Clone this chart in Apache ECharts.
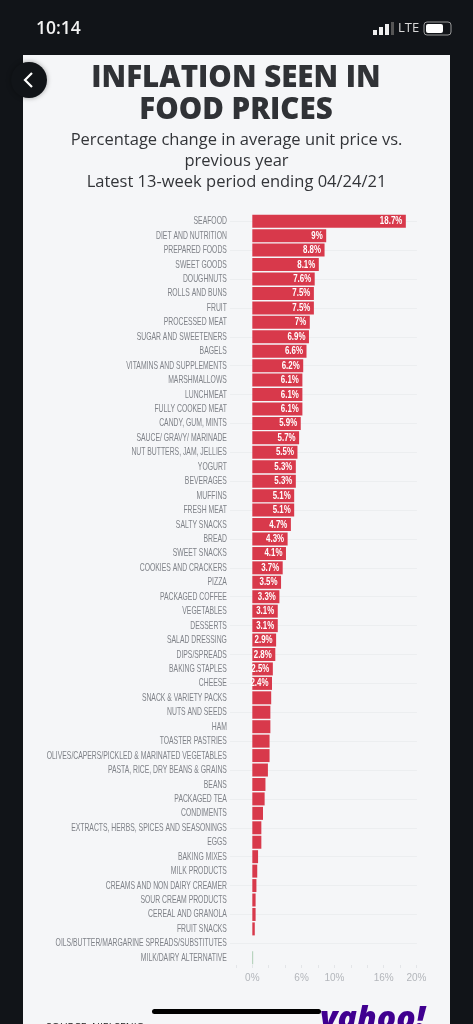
<!DOCTYPE html>
<html lang="en">
<head>
<meta charset="UTF-8">
<title>Inflation seen in food prices</title>
<script src="https://cdn.jsdelivr.net/npm/echarts@6/dist/echarts.min.js"></script>
<style>
html,body{margin:0;padding:0;background:#111418;}
#chart{width:473px;height:1024px;}
</style>
</head>
<body>
<div id="chart"></div>
<script>
var categories = ['SEAFOOD','DIET AND NUTRITION','PREPARED FOODS','SWEET GOODS','DOUGHNUTS','ROLLS AND BUNS','FRUIT','PROCESSED MEAT','SUGAR AND SWEETENERS','BAGELS','VITAMINS AND SUPPLEMENTS','MARSHMALLOWS','LUNCHMEAT','FULLY COOKED MEAT','CANDY, GUM, MINTS','SAUCE/ GRAVY/ MARINADE','NUT BUTTERS, JAM, JELLIES','YOGURT','BEVERAGES','MUFFINS','FRESH MEAT','SALTY SNACKS','BREAD','SWEET SNACKS','COOKIES AND CRACKERS','PIZZA','PACKAGED COFFEE','VEGETABLES','DESSERTS','SALAD DRESSING','DIPS/SPREADS','BAKING STAPLES','CHEESE','SNACK & VARIETY PACKS','NUTS AND SEEDS','HAM','TOASTER PASTRIES','OLIVES/CAPERS/PICKLED & MARINATED VEGETABLES','PASTA, RICE, DRY BEANS & GRAINS','BEANS','PACKAGED TEA','CONDIMENTS','EXTRACTS, HERBS, SPICES AND SEASONINGS','EGGS','BAKING MIXES','MILK PRODUCTS','CREAMS AND NON DAIRY CREAMER','SOUR CREAM PRODUCTS','CEREAL AND GRANOLA','FRUIT SNACKS','OILS/BUTTER/MARGARINE SPREADS/SUBSTITUTES','MILK/DAIRY ALTERNATIVE'];
var values = [18.7,9,8.8,8.1,7.6,7.5,7.5,7,6.9,6.6,6.2,6.1,6.1,6.1,5.9,5.7,5.5,5.3,5.3,5.1,5.1,4.7,4.3,4.1,3.7,3.5,3.3,3.1,3.1,2.9,2.8,2.5,2.4,2.3,2.2,2.2,2.1,2.1,1.9,1.6,1.5,1.3,1.1,1.1,0.7,0.6,0.5,0.4,0.4,0.3,0,0.1];
var labelledBars = 33;
var tickLabels = [0,6,10,16,20];

var font = '"Liberation Sans"';
var panel = '#f5f6f8';

// no condensed font is installed, so squeeze the labels with scaleX
function squeezedText(text, pos, scaleX, style) {
    return {
        type: 'text', x: pos[0], y: pos[1], scaleX: scaleX,
        style: {text: text, x: 0, y: 0, align: 'right', verticalAlign: 'middle', fill: style.fill, font: style.font}
    };
}

var chart = echarts.init(document.getElementById('chart'));
chart.setOption({
    backgroundColor: '#111418',
    animation: false,
    title: [
        {text: 'INFLATION SEEN IN\nFOOD PRICES', left: 231, top: 58, textAlign: 'center',
         textStyle: {fontFamily: '"Open Sans"', fontWeight: 800, fontSize: 29.5, lineHeight: 31.5, color: '#303236'}},
        {text: 'Percentage change in average unit price vs.\nprevious year\nLatest 13-week period ending 04/24/21', left: 231.5, top: 125, textAlign: 'center',
         textStyle: {fontFamily: '"Open Sans"', fontWeight: 400, fontSize: 16.5, lineHeight: 21, color: '#333539'}},
        {text: '10:14', left: 31, top: 15, textStyle: {fontFamily: '"Open Sans"', fontWeight: 600, fontSize: 17.5, color: '#f2f2f2'}},
        {text: 'LTE', left: 393, top: 17, textStyle: {fontFamily: '"Open Sans"', fontWeight: 400, fontSize: 13, color: '#d8d8d8'}},
        {text: 'SOURCE: NIELSENIQ', left: 41, top: 1018, textStyle: {fontFamily: '"Open Sans"', fontWeight: 400, fontSize: 10.5, color: '#222'}},
        {text: 'yahoo!', left: 315, top: 999, textStyle: {fontFamily: '"Open Sans"', fontWeight: 800, fontStyle: 'italic', fontSize: 32, color: '#400090'}}
    ],
    grid: {left: 235.9, right: 56.5, top: 214, bottom: 59, outerBoundsMode: 'none'},
    xAxis: {
        type: 'value', min: -2, max: 20, interval: 2,
        splitLine: {show: false},
        axisLine: {show: false},
        axisTick: {show: true, length: 3, lineStyle: {color: '#e3e5e8'}},
        axisLabel: {
            margin: 8, fontFamily: font, fontSize: 10, color: '#b3b6bb',
            formatter: function (v) { return tickLabels.indexOf(v) >= 0 ? v + '%' : ''; }
        }
    },
    yAxis: {
        type: 'category', data: categories, inverse: true, offset: 6,
        axisLine: {show: false, onZero: false},
        axisTick: {show: true, inside: true, alignWithLabel: true, length: 187, lineStyle: {color: '#eceef0'}},
        axisLabel: {show: false}
    },
    series: [
        {
            type: 'bar', barWidth: 13,
            data: values.map(function (v, i) {
                return {value: v, itemStyle: {color: i === values.length - 1 ? '#9dc5a5' : '#d8394b'}};
            })
        },
        {
            // category names
            type: 'custom', silent: true, z: 4,
            data: categories.map(function (c, i) { return [-2, i]; }),
            encode: {x: 0, y: 1},
            renderItem: function (params, api) {
                var p = api.coord([api.value(0), api.value(1)]);
                return squeezedText(categories[params.dataIndex], [p[0] - 9, p[1]], 0.62, {fill: '#7f8288', font: '11px ' + font});
            }
        },
        {
            // value labels on the longer bars
            type: 'custom', silent: true, z: 5,
            data: values.slice(0, labelledBars).map(function (v, i) { return [v, i]; }),
            encode: {x: 0, y: 1},
            renderItem: function (params, api) {
                var p = api.coord([api.value(0), api.value(1)]);
                return squeezedText(api.value(0) + '%', [p[0] - 3.5, p[1]], 0.72, {fill: '#fff', font: 'bold 11px ' + font});
            }
        }
    ],
    graphic: [
        {type: 'rect', z: -10, shape: {x: 23, y: 55, width: 427, height: 969}, style: {fill: panel}},
        {type: 'rect', z: 50, shape: {x: 23, y: 750, width: 24, height: 14}, style: {fill: panel}},
        // back button
        {type: 'circle', z: 50, shape: {cx: 29, cy: 80, r: 18}, style: {fill: '#111418', shadowBlur: 5, shadowColor: 'rgba(0,0,0,0.35)'}},
        {type: 'polyline', z: 51, shape: {points: [[32, 73], [25, 80], [32, 87]]}, style: {stroke: '#fff', lineWidth: 2.2, fill: null}},
        // status bar
        {type: 'rect', z: 50, shape: {x: 373, y: 30, width: 4, height: 5}, style: {fill: '#eee'}},
        {type: 'rect', z: 50, shape: {x: 379, y: 27, width: 4, height: 8}, style: {fill: '#eee'}},
        {type: 'rect', z: 50, shape: {x: 385, y: 24, width: 4, height: 11}, style: {fill: '#eee'}},
        {type: 'rect', z: 50, shape: {x: 391, y: 22, width: 3, height: 13}, style: {fill: '#555'}},
        {type: 'rect', z: 50, shape: {x: 424, y: 22, width: 27, height: 13, r: 3}, style: {fill: 'none', stroke: '#999', lineWidth: 1}},
        {type: 'rect', z: 50, shape: {x: 426, y: 24, width: 17, height: 9, r: 2}, style: {fill: '#fff'}},
        // home bar
        {type: 'rect', z: 50, shape: {x: 152, y: 1009, width: 169, height: 5, r: 2.5}, style: {fill: '#000'}}
    ]
});
</script>
</body>
</html>
